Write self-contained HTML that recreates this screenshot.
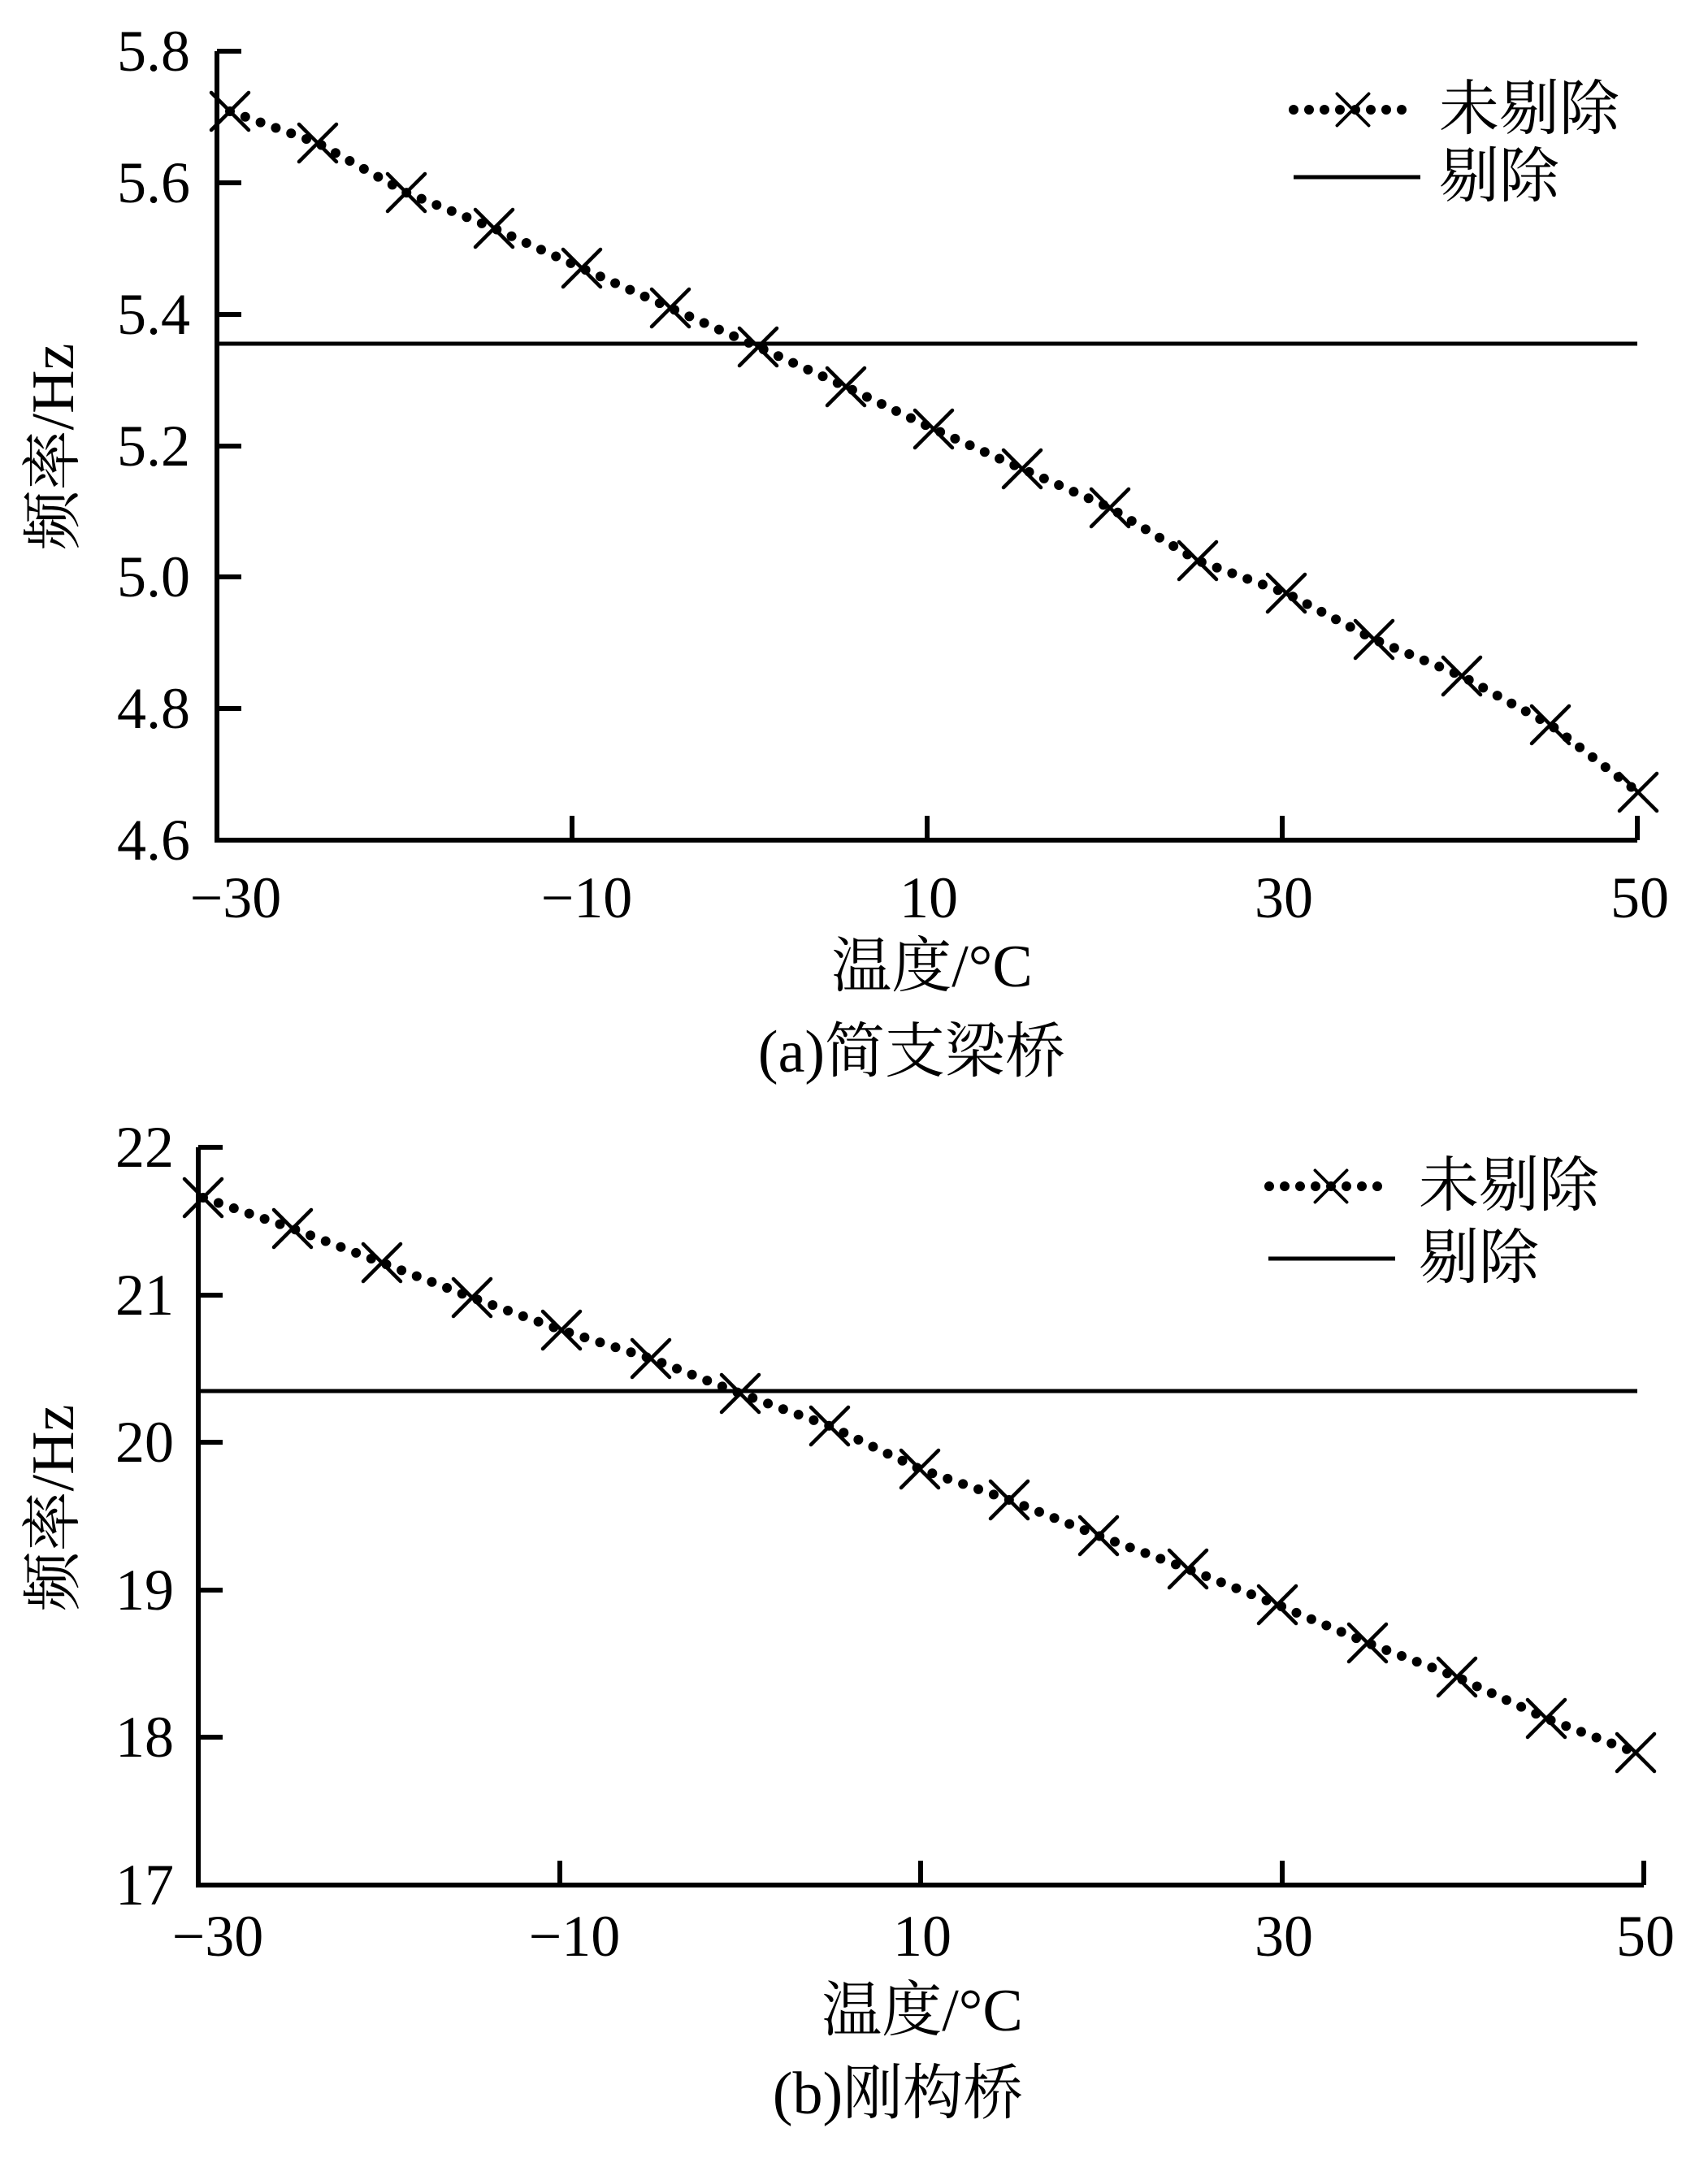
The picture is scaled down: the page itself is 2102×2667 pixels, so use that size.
<!DOCTYPE html>
<html><head><meta charset="utf-8"><style>
html,body{margin:0;padding:0;background:#fff;}
svg{display:block;}
.t{font-family:"Liberation Serif","Noto Serif CJK SC",serif;font-size:72px;fill:#000;}
.c{font-family:"Liberation Serif","Noto Serif CJK SC",serif;font-size:74px;fill:#000;}
</style></head><body>
<svg width="2102" height="2667" viewBox="0 0 2102 2667" xmlns="http://www.w3.org/2000/svg">
<defs>
<g id="m" stroke="#000" stroke-width="4.5" stroke-linecap="round"><line x1="-23" y1="-23" x2="23" y2="23"/><line x1="-23" y1="23" x2="23" y2="-23"/></g>
</defs>
<!-- TOP CHART -->
<g stroke="#000" stroke-width="6" fill="none">
<polyline points="267,63 267,1034 2015,1034"/>
<line x1="267" y1="63" x2="297" y2="63"/>
<line x1="267" y1="225" x2="297" y2="225"/>
<line x1="267" y1="387" x2="297" y2="387"/>
<line x1="267" y1="549" x2="297" y2="549"/>
<line x1="267" y1="710" x2="297" y2="710"/>
<line x1="267" y1="872" x2="297" y2="872"/>
<line x1="704" y1="1034" x2="704" y2="1004"/>
<line x1="1141" y1="1034" x2="1141" y2="1004"/>
<line x1="1578" y1="1034" x2="1578" y2="1004"/>
<line x1="2015" y1="1034" x2="2015" y2="1004"/>
</g>
<line x1="267" y1="423" x2="2015" y2="423" stroke="#000" stroke-width="5"/>
<polyline fill="none" stroke="#000" stroke-width="12" stroke-linecap="round" stroke-dasharray="0 20" points="283,137 391,176 500,237 608,281 716,330 825,379 933,427 1041,476 1149,528 1258,577 1366,625 1474,690 1583,730 1691,787 1799,832 1908,892 2016,975"/>
<g>
<use href="#m" x="283" y="137"/><use href="#m" x="391" y="176"/><use href="#m" x="500" y="237"/><use href="#m" x="608" y="281"/><use href="#m" x="716" y="330"/><use href="#m" x="825" y="379"/><use href="#m" x="933" y="427"/><use href="#m" x="1041" y="476"/><use href="#m" x="1149" y="528"/><use href="#m" x="1258" y="577"/><use href="#m" x="1366" y="625"/><use href="#m" x="1474" y="690"/><use href="#m" x="1583" y="730"/><use href="#m" x="1691" y="787"/><use href="#m" x="1799" y="832"/><use href="#m" x="1908" y="892"/><use href="#m" x="2016" y="975"/>
</g>
<g class="t" text-anchor="end" dominant-baseline="central">
<text x="234" y="63">5.8</text><text x="234" y="225">5.6</text><text x="234" y="387">5.4</text><text x="234" y="549">5.2</text><text x="234" y="710">5.0</text><text x="234" y="872">4.8</text><text x="234" y="1034">4.6</text>
</g>
<g class="t" text-anchor="middle" dominant-baseline="central">
<text x="290" y="1105">−30</text><text x="722" y="1105">−10</text><text x="1143" y="1105">10</text><text x="1580" y="1105">30</text><text x="2018" y="1105">50</text>
</g>
<text class="c" x="1147" y="1190" text-anchor="middle" dominant-baseline="central">温度/°C</text>
<text class="c" x="1122" y="1295" text-anchor="middle" dominant-baseline="central">(a)简支梁桥</text>
<text class="c" transform="translate(66,550) rotate(-90)" text-anchor="middle" dominant-baseline="central">频率/Hz</text>
<line x1="1592" y1="135" x2="1731" y2="135" stroke="#000" stroke-width="12" stroke-linecap="round" stroke-dasharray="0 19"/>
<use href="#m" x="1665" y="135" transform="translate(1665,135) scale(0.85) translate(-1665,-135)"/>
<line x1="1592" y1="218" x2="1748" y2="218" stroke="#000" stroke-width="5"/>
<text class="c" x="1771" y="135" dominant-baseline="central">未剔除</text>
<text class="c" x="1771" y="218" dominant-baseline="central">剔除</text>

<!-- BOTTOM CHART -->
<g stroke="#000" stroke-width="6" fill="none">
<polyline points="244,1412 244,2320 2023,2320"/>
<line x1="244" y1="1412" x2="274" y2="1412"/>
<line x1="244" y1="1594" x2="274" y2="1594"/>
<line x1="244" y1="1775" x2="274" y2="1775"/>
<line x1="244" y1="1957" x2="274" y2="1957"/>
<line x1="244" y1="2138" x2="274" y2="2138"/>
<line x1="689" y1="2320" x2="689" y2="2290"/>
<line x1="1133" y1="2320" x2="1133" y2="2290"/>
<line x1="1578" y1="2320" x2="1578" y2="2290"/>
<line x1="2023" y1="2320" x2="2023" y2="2290"/>
</g>
<line x1="244" y1="1712" x2="2015" y2="1712" stroke="#000" stroke-width="5"/>
<polyline fill="none" stroke="#000" stroke-width="12" stroke-linecap="round" stroke-dasharray="0 20" points="250,1474 360,1512 470,1554 581,1597 691,1637 801,1672 911,1715 1021,1755 1132,1808 1242,1846 1352,1890 1462,1931 1572,1975 1683,2022 1793,2064 1903,2115 2013,2157"/>
<g>
<use href="#m" x="250" y="1474"/><use href="#m" x="360" y="1512"/><use href="#m" x="470" y="1554"/><use href="#m" x="581" y="1597"/><use href="#m" x="691" y="1637"/><use href="#m" x="801" y="1672"/><use href="#m" x="911" y="1715"/><use href="#m" x="1021" y="1755"/><use href="#m" x="1132" y="1808"/><use href="#m" x="1242" y="1846"/><use href="#m" x="1352" y="1890"/><use href="#m" x="1462" y="1931"/><use href="#m" x="1572" y="1975"/><use href="#m" x="1683" y="2022"/><use href="#m" x="1793" y="2064"/><use href="#m" x="1903" y="2115"/><use href="#m" x="2013" y="2157"/>
</g>
<g class="t" text-anchor="end" dominant-baseline="central">
<text x="214" y="1412">22</text><text x="214" y="1594">21</text><text x="214" y="1775">20</text><text x="214" y="1957">19</text><text x="214" y="2138">18</text><text x="214" y="2320">17</text>
</g>
<g class="t" text-anchor="middle" dominant-baseline="central">
<text x="268" y="2383">−30</text><text x="707" y="2383">−10</text><text x="1135" y="2383">10</text><text x="1580" y="2383">30</text><text x="2025" y="2383">50</text>
</g>
<text class="c" x="1135" y="2475" text-anchor="middle" dominant-baseline="central">温度/°C</text>
<text class="c" x="1105" y="2577" text-anchor="middle" dominant-baseline="central">(b)刚构桥</text>
<text class="c" transform="translate(66,1856) rotate(-90)" text-anchor="middle" dominant-baseline="central">频率/Hz</text>
<line x1="1562" y1="1460" x2="1702" y2="1460" stroke="#000" stroke-width="12" stroke-linecap="round" stroke-dasharray="0 19"/>
<use href="#m" x="1638" y="1460" transform="translate(1638,1460) scale(0.85) translate(-1638,-1460)"/>
<line x1="1561" y1="1549" x2="1717" y2="1549" stroke="#000" stroke-width="5"/>
<text class="c" x="1746" y="1460" dominant-baseline="central">未剔除</text>
<text class="c" x="1746" y="1549" dominant-baseline="central">剔除</text>
</svg>
</body></html>
